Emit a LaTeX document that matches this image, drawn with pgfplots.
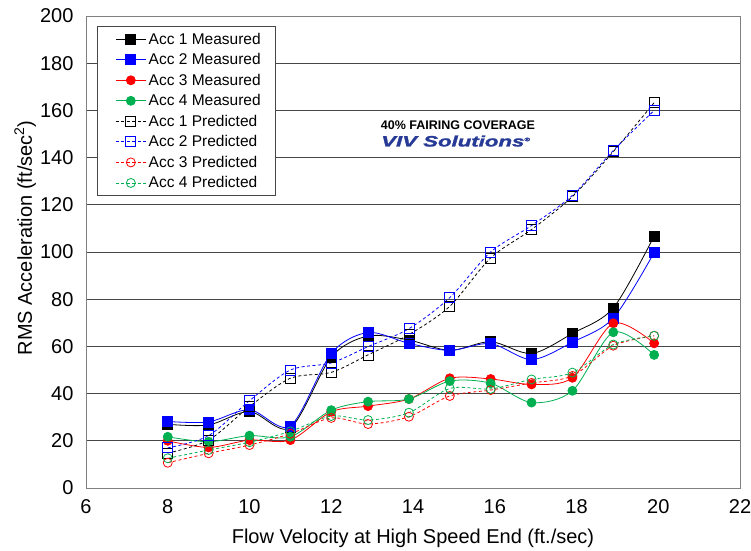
\documentclass[border=0pt]{standalone}
\usepackage{fontspec}
\setmainfont{Liberation Sans}
\newfontfamily\logofont[BoldItalicFeatures={FakeBold=1.5}]{Liberation Sans}
\usepackage{pgfplots}
\usepackage{pgfplotstable}
\pgfplotsset{compat=1.18}
\definecolor{accgreen}{RGB}{0,176,80}
\definecolor{logoblue}{RGB}{38,58,150}
\definecolor{gridgray}{RGB}{70,70,70}
\definecolor{framegray}{RGB}{128,128,128}
\pgfplotstableread{
x     m1    m2    m3   m4    p1    p2    p3   p4
8     27    28.2  20   21.7  14.8  17    10.7 12.6
9     26.7  28    17.2 19.6  20.3  22.2  14.7 16.1
10    32.4  33.2  20.3 22.2  34.5  37    18.2 19.4
11    25.5  26.3  20.3 21.7  46.5  50    23   24
12    55.5  57    32.3 33    49    53    29.7 30.5
12.9  64.4  65.9  34.7 36.6  56.4  59.9  27.1 28.8
13.9  62.7  61.3  37.7 37.7  65    67.5  30.2 31.9
14.9  58.3  58.3  46.5 45.3  77    80.7  39   42.2
15.9  62    61.2  46.2 44.4  97.5  100   41.5 42
16.9  57    54.4  43.9 36.2  109.5 111.2 44.5 46
17.9  65.5  61.8  46.7 41.2  123.5 124   47.5 48.9
18.9  76.3  72    69.8 66    142.5 143   60.3 60.8
19.9  106.8 99.8  61.3 56.4  163.3 160   64.5 64.5
}\datatable
\begin{document}
\begin{tikzpicture}
\path[use as bounding box] (-86pt,-62pt) rectangle (665pt,488pt);
\begin{axis}[
  at={(0,0)}, anchor=south west,
  scale only axis, width=654pt, height=472pt,
  xmin=6, xmax=22, ymin=0, ymax=200,
  xtick={6,8,...,22}, ytick={0,20,...,200},
  ymajorgrids, grid style={gridgray, line width=0.9pt},
  axis line style={framegray, line width=0.9pt},
  major tick length=0pt,
  /pgf/number format/assume math mode=true,
  tick label style={font=\fontsize{20}{24}\selectfont},
  xticklabel style={yshift=-8pt},
  yticklabel style={xshift=-9pt},
  xlabel={Flow Velocity at High Speed End (ft./sec)},
  ylabel={RMS Acceleration (ft/sec\textsuperscript{2})},
  label style={font=\fontsize{20}{24}\selectfont},
  xlabel style={at={(axis description cs:0.5,-0.106)}, anchor=center},
  ylabel style={at={(axis description cs:-0.093,0.53)}, anchor=center},
  legend style={at={(axis description cs:0.0168,0.979)}, anchor=north west,
    draw=gridgray, line width=0.9pt, fill=white,
    font=\fontsize{15.5}{18}\selectfont,
    inner xsep=12pt, inner ysep=4pt, row sep=2.8pt,
    nodes={inner sep=2.5pt}},
  legend cell align=left,
  legend image code/.code={\path (-6pt,0pt); \draw[mark repeat=2,mark phase=2,#1] plot coordinates {(0pt,0pt) (15pt,0pt) (30pt,0pt)};},
  every axis plot/.append style={smooth, tension=0.5},
  meas/.style={line width=0.8pt, mark size=5pt, mark options={solid}},
  pred/.style={line width=0.8pt, dash pattern=on 3pt off 2.5pt, mark size=5pt, mark options={solid, fill=none, line width=0.8pt}},
]
\addplot[meas, black, mark=square*] table[x=x,y=m1] {\datatable};
\addlegendentry{Acc 1 Measured}
\addplot[meas, blue, mark=square*] table[x=x,y=m2] {\datatable};
\addlegendentry{Acc 2 Measured}
\addplot[meas, red, mark=*, mark size=4.5pt] table[x=x,y=m3] {\datatable};
\addlegendentry{Acc 3 Measured}
\addplot[meas, accgreen, mark=*, mark size=4.5pt] table[x=x,y=m4] {\datatable};
\addlegendentry{Acc 4 Measured}
\addplot[pred, black, mark=square] table[x=x,y=p1] {\datatable};
\addlegendentry{Acc 1 Predicted}
\addplot[pred, blue, mark=square] table[x=x,y=p2] {\datatable};
\addlegendentry{Acc 2 Predicted}
\addplot[pred, red, mark=o, mark size=4.5pt] table[x=x,y=p3] {\datatable};
\addlegendentry{Acc 3 Predicted}
\addplot[pred, accgreen, mark=o, mark size=4.5pt] table[x=x,y=p4] {\datatable};
\addlegendentry{Acc 4 Predicted}
\node[font=\fontsize{12.5}{15}\selectfont\bfseries] at (axis cs:15.1,153.8) {40\% FAIRING COVERAGE};
\node[font=\fontsize{15}{18}\selectfont\logofont\bfseries\itshape, text=logoblue, xscale=1.48] at (axis cs:15.05,147) {VIV Solutions\textsuperscript{\tiny ®}};
\end{axis}
\end{tikzpicture}
\end{document}
